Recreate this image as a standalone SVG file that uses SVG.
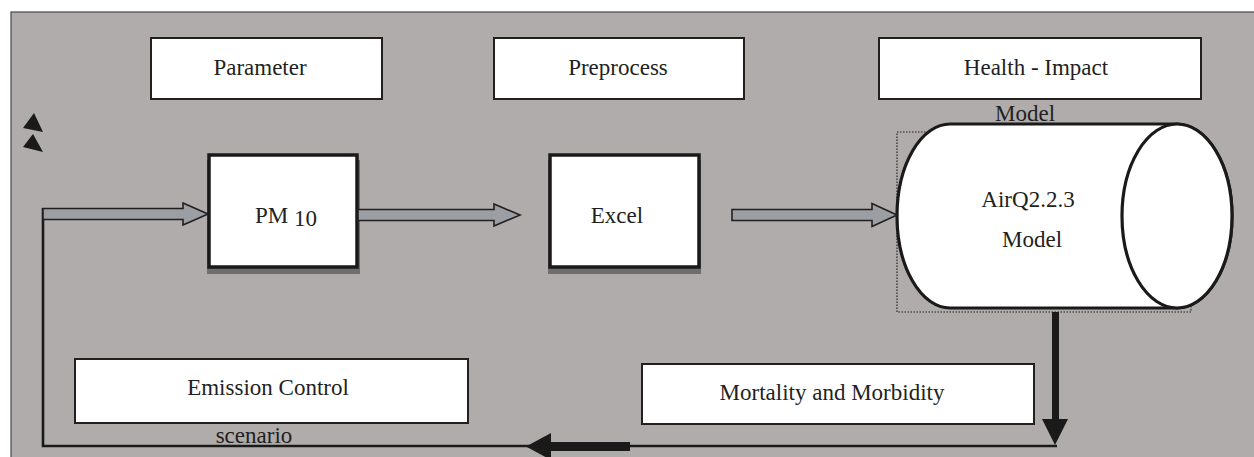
<svg xmlns="http://www.w3.org/2000/svg" width="1254" height="457" viewBox="0 0 1254 457">
<style>
.lbl{font-family:"Liberation Serif","DejaVu Serif",serif;font-size:23px;fill:#231f20;text-anchor:middle}
.hdr{fill:#fff;stroke:#231f20;stroke-width:2}
.blk{fill:#fff;stroke:#1a1a1a;stroke-width:3.5}
.shd{fill:#6f6d6d}
.garr{fill:#9b9ea3;stroke:#231f20;stroke-width:1.6;stroke-linejoin:miter}
.line{fill:none;stroke:#1a1a1a;stroke-width:2.6}
.solid{fill:#1a1a1a}
</style>
<rect x="0" y="0" width="1254" height="457" fill="#fff"/>
<rect id="panel" x="11" y="12" width="1250" height="450" fill="#b0acab" stroke="#4a4848" stroke-width="1.2"/>
<g id="marks">
<polygon class="solid" points="34,113 23,128 43,132"/>
<polygon class="solid" points="33,134 23,147 43,152"/>
</g>
<g id="parameter">
<rect class="hdr" x="151" y="38" width="231" height="61"/>
<text class="lbl" x="260" y="75">Parameter</text>
</g>
<g id="preprocess">
<rect class="hdr" x="494" y="38" width="250" height="61"/>
<text class="lbl" x="618" y="75">Preprocess</text>
</g>
<g id="health-impact">
<rect class="hdr" x="879" y="38" width="322" height="61"/>
<text class="lbl" x="1036" y="75">Health - Impact</text>
<text class="lbl" x="1025" y="121">Model</text>
</g>
<g id="pm10">
<rect class="shd" x="207" y="160" width="153" height="114"/>
<rect class="blk" x="209" y="155" width="148" height="112"/>
<text class="lbl" x="255" y="223" style="text-anchor:start">PM <tspan dy="3">10</tspan></text>
</g>
<g id="excel">
<rect class="shd" x="548" y="160" width="153" height="114"/>
<rect class="blk" x="550" y="155" width="149" height="112"/>
<text class="lbl" x="617" y="223">Excel</text>
</g>
<g id="airq">
<rect x="897" y="132" width="294" height="180" fill="none" stroke="#231f20" stroke-width="1.2" stroke-dasharray="1.5,1.5"/>
<path d="M950,124 L1177,124 A55,92 0 0 1 1177,308 L950,308 A53,92 0 0 1 950,124 Z" fill="#fff" stroke="#1a1a1a" stroke-width="3.2"/>
<ellipse cx="1177" cy="216" rx="55" ry="92" fill="#fff" stroke="#1a1a1a" stroke-width="3.2"/>
<text class="lbl" x="1028" y="207">AirQ2.2.3</text>
<text class="lbl" x="1032" y="247">Model</text>
</g>
<g id="emission">
<rect class="hdr" x="75" y="359" width="393" height="64" stroke-width="1.6"/>
<text class="lbl" x="268" y="395">Emission Control</text>
<text class="lbl" x="254" y="443">scenario</text>
</g>
<g id="mortality">
<rect class="hdr" x="642" y="364" width="392" height="60" stroke-width="1.6"/>
<text class="lbl" x="832" y="400">Mortality and Morbidity</text>
</g>
<g id="connectors">
<polyline class="line" points="43,208 43,446 1057,446"/>
<polygon class="garr" points="43,208.5 183,208.5 183,203 208,214 183,225 183,219.5 43,219.5"/>
<polygon class="garr" points="358,209.5 494,209.5 494,204 520,215 494,226 494,220.5 358,220.5"/>
<polygon class="garr" points="732,209.5 872,209.5 872,203.5 897,215 872,226.5 872,220.5 732,220.5"/>
<rect class="solid" x="1052" y="312" width="7" height="108"/>
<polygon class="solid" points="1042,419 1068,419 1055,445"/>
<rect class="solid" x="550" y="442" width="80" height="9"/>
<polygon class="solid" points="551,433 526,446.5 551,460"/>
</g>
</svg>
